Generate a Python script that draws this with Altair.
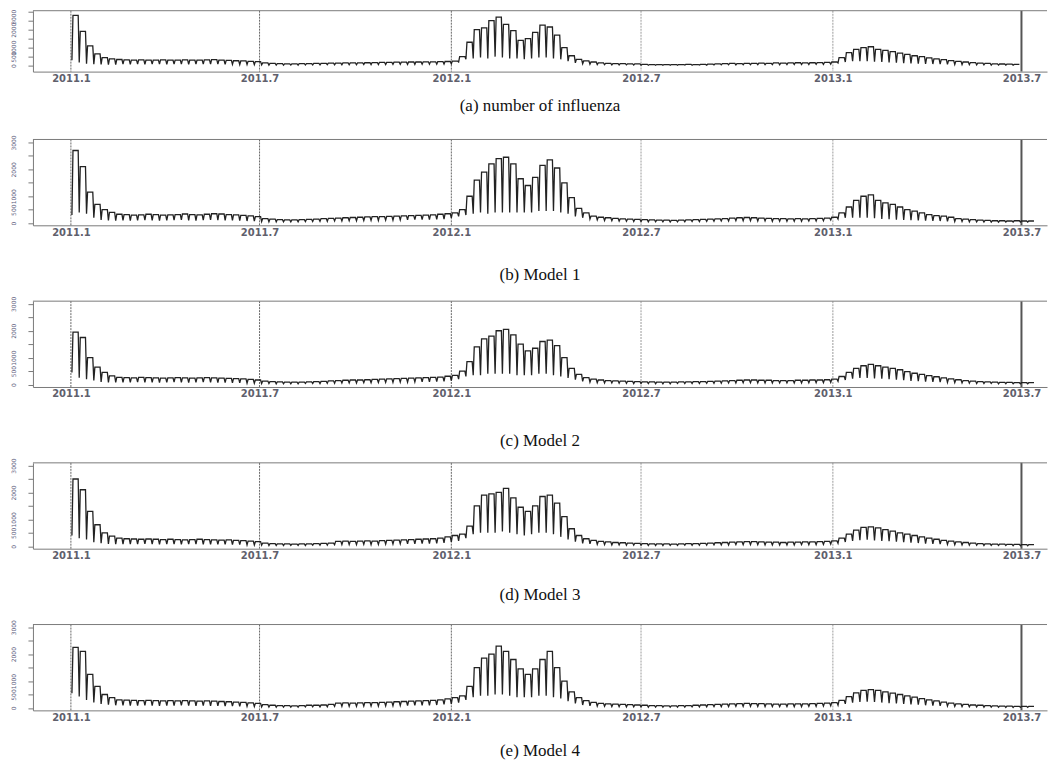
import altair as alt
import pandas as pd

# ---- axis ticks / reference lines (days since 2011-01-01) ----
tick_days = [0, 181, 365, 547, 731, 912]
tick_labels = ["2011.1", "2011.7", "2012.1", "2012.7", "2013.1", "2013.7"]
vline_styles = ["dark", "dark", "dark", "light", "light", "solid"]
y_ticks = [0, 500, 1000, 1500, 2000, 2500, 3000]

captions = ["(a) number of influenza", "(b) Model 1", "(c) Model 2", "(d) Model 3", "(e) Model 4"]

# ---- weekly values: weekday level (hi) and Sunday dip (lo) ----
a_hi = [2800, 1900, 1100, 650, 450, 380, 340,
        320, 310, 320, 300, 310, 320, 300, 310, 320, 300, 310, 320, 330, 300, 290, 270, 260, 240, 220,
        150, 120, 110, 100, 100, 110, 110, 120, 130, 140, 140, 150, 150,
        150, 160, 170, 180, 180, 190, 190, 200, 200, 210, 210, 220, 230, 250,
        500, 1300, 2000, 2100, 2500, 2700, 2300, 1950, 1400, 1500, 1850, 2250, 2150, 1700, 1000, 550, 350, 260, 200, 150,
        120, 110, 110, 100, 100, 70, 60, 60, 60, 60, 60, 70, 60, 70, 80, 100, 110, 120, 110, 130, 120, 140, 130, 150, 140, 150, 160, 150, 160, 170, 180,
        200, 450, 720, 900, 1000, 1050, 900, 850, 780, 700, 620, 550, 500, 430, 380, 330, 280, 240, 200, 170, 140, 120, 100, 90, 80, 70]
a_lo = [300, 170, 100, 80, 70, 60, 60,
        80, 70, 80, 70, 80, 80, 70, 80, 80, 70, 80, 80, 90, 80, 70, 70, 60, 60, 50,
        40, 30, 30, 30, 30, 30, 40, 40, 40, 50, 50, 50, 50,
        50, 60, 60, 60, 60, 70, 70, 70, 70, 80, 80, 80, 90, 100,
        200, 350, 400, 450, 400, 500, 450, 400, 400, 350, 400, 450, 450, 400, 350, 250, 150, 100, 80, 60,
        50, 40, 40, 40, 30, 30, 20, 20, 20, 20, 20, 30, 20, 30, 30, 40, 40, 50, 40, 50, 50, 50, 50, 60, 50, 60, 60, 60, 60, 70, 70,
        80, 150, 200, 250, 250, 250, 220, 200, 180, 160, 140, 120, 110, 100, 90, 80, 70, 60, 60, 50, 40, 40, 30, 30, 30, 30]

b_hi = [2700, 2100, 1150, 700, 500, 400, 330,
        320, 300, 310, 330, 320, 300, 310, 320, 340, 320, 310, 330, 350, 340, 320, 310, 290, 270, 240,
        170, 150, 130, 120, 120, 130, 140, 150, 170, 180, 190, 200, 210,
        220, 230, 240, 240, 250, 260, 270, 280, 290, 300, 310, 330, 350, 380,
        500, 1000, 1600, 1900, 2200, 2400, 2450, 2200, 1650, 1400, 1700, 2150, 2350, 2050, 1500, 950, 550, 380, 260, 220,
        200, 180, 160, 150, 140, 130, 120, 110, 110, 100, 110, 120, 130, 140, 150, 160, 170, 190, 200, 210, 200, 190, 180, 170, 170, 160, 170, 160, 170, 180, 190,
        220, 380, 600, 850, 1000, 1050, 850, 750, 700, 600, 500, 450, 380, 320, 280, 260, 220, 170, 150, 130, 110, 100, 90, 90, 80, 90, 80, 80]
b_lo = [300, 400, 350, 200, 120, 100, 90,
        100, 90, 100, 110, 100, 90, 100, 110, 120, 100, 90, 110, 120, 110, 100, 100, 90, 80, 80,
        60, 50, 50, 50, 50, 50, 60, 60, 70, 70, 80, 80, 90,
        90, 100, 100, 100, 110, 110, 120, 120, 130, 130, 130, 140, 150, 200,
        250, 300, 350, 400, 350, 400, 400, 400, 400, 400, 400, 450, 450, 450, 400, 350, 250, 200, 150, 120,
        100, 90, 80, 70, 60, 60, 50, 50, 50, 40, 50, 50, 60, 60, 70, 70, 80, 80, 90, 90, 90, 80, 80, 70, 70, 70, 70, 70, 80, 80, 90,
        120, 150, 200, 200, 200, 200, 180, 160, 150, 130, 120, 110, 100, 90, 80, 80, 70, 60, 60, 50, 50, 40, 40, 40, 40, 40, 40, 40]

c_hi = [1950, 1750, 1000, 650, 450, 320, 270,
        260, 250, 270, 260, 250, 240, 250, 260, 250, 240, 250, 260, 250, 240, 230, 220, 210, 190, 170,
        130, 110, 100, 90, 90, 90, 100, 110, 120, 140, 150, 160, 170,
        170, 180, 190, 200, 210, 220, 230, 240, 250, 260, 270, 280, 310, 340,
        500, 850, 1400, 1700, 1800, 2000, 2050, 1850, 1500, 1250, 1350, 1600, 1650, 1450, 1000, 600, 380, 260, 200, 170,
        150, 140, 130, 120, 110, 100, 100, 90, 90, 90, 100, 100, 110, 110, 120, 130, 140, 150, 160, 170, 170, 160, 160, 150, 150, 150, 160, 160, 170, 170, 180,
        200, 300, 450, 600, 700, 750, 700, 650, 600, 550, 480, 420, 380, 330, 290, 250, 210, 180, 150, 130, 110, 100, 90, 80, 80, 70, 70, 70]
c_lo = [450, 250, 200, 150, 100, 80, 80,
        80, 80, 90, 80, 80, 70, 80, 90, 80, 70, 80, 90, 80, 70, 70, 60, 60, 50, 50,
        40, 40, 30, 30, 30, 30, 40, 40, 40, 50, 50, 60, 60,
        60, 70, 70, 80, 80, 80, 90, 90, 100, 100, 100, 110, 120, 150,
        200, 300, 350, 350, 400, 400, 400, 400, 350, 350, 350, 400, 400, 350, 300, 250, 180, 120, 90, 70,
        60, 60, 50, 50, 40, 40, 40, 30, 30, 30, 40, 40, 40, 40, 50, 50, 50, 60, 60, 70, 70, 60, 60, 60, 60, 60, 60, 60, 70, 70, 70,
        80, 120, 170, 220, 250, 250, 230, 220, 200, 180, 160, 140, 130, 110, 100, 90, 80, 70, 60, 50, 40, 40, 40, 30, 30, 30, 30, 30]

d_hi = [2500, 2100, 1300, 800, 500, 380, 300,
        280, 270, 260, 270, 260, 250, 260, 250, 240, 250, 260, 250, 240, 230, 240, 220, 210, 190, 170,
        120, 100, 90, 90, 80, 90, 90, 100, 110, 120, 180, 190, 180,
        190, 200, 190, 210, 220, 230, 240, 250, 260, 270, 280, 300, 350, 400,
        450, 750, 1500, 1900, 1950, 2000, 2150, 1800, 1450, 1300, 1500, 1850, 1900, 1600, 1100, 650, 400, 280, 220, 180,
        160, 140, 130, 120, 110, 100, 90, 90, 90, 80, 90, 100, 100, 110, 120, 130, 140, 150, 160, 170, 170, 160, 150, 150, 140, 150, 150, 160, 160, 170, 180,
        200, 300, 450, 600, 700, 720, 680, 620, 560, 500, 450, 400, 350, 300, 260, 220, 190, 160, 140, 120, 100, 90, 80, 80, 70, 70, 60, 60]
d_lo = [400, 300, 250, 150, 110, 90, 80,
        80, 80, 80, 90, 80, 70, 80, 80, 70, 80, 80, 70, 70, 70, 70, 60, 60, 50, 50,
        40, 30, 30, 30, 30, 30, 30, 40, 40, 40, 60, 60, 60,
        60, 70, 60, 70, 80, 80, 90, 90, 90, 100, 100, 110, 130, 160,
        200, 300, 450, 500, 500, 500, 550, 500, 450, 400, 450, 500, 500, 450, 350, 250, 170, 110, 90, 70,
        60, 50, 50, 40, 40, 40, 30, 30, 30, 30, 30, 40, 40, 40, 40, 50, 50, 50, 60, 60, 60, 60, 50, 50, 50, 50, 50, 60, 60, 60, 70,
        80, 110, 160, 200, 230, 240, 220, 200, 190, 170, 150, 130, 120, 100, 90, 80, 70, 60, 50, 40, 40, 30, 30, 30, 30, 20, 20, 20]

e_hi = [2250, 2100, 1250, 800, 500, 380, 300,
        290, 280, 270, 280, 270, 260, 270, 260, 270, 260, 250, 260, 250, 240, 230, 220, 210, 190, 170,
        120, 100, 90, 90, 80, 90, 100, 100, 110, 130, 180, 190, 180,
        190, 200, 200, 210, 220, 230, 240, 250, 260, 270, 280, 300, 340, 380,
        450, 800, 1500, 1850, 2000, 2300, 2100, 1800, 1450, 1250, 1450, 1800, 2100, 1500, 1000, 600, 380, 270, 210, 170,
        150, 140, 130, 120, 110, 100, 90, 90, 80, 80, 90, 90, 100, 110, 120, 130, 140, 150, 160, 170, 160, 160, 150, 140, 140, 150, 150, 150, 160, 170, 180,
        200, 280, 420, 560, 650, 680, 650, 600, 550, 500, 450, 400, 350, 300, 260, 220, 180, 150, 130, 110, 100, 90, 80, 70, 70, 60, 60, 60]
e_lo = [550, 430, 300, 200, 150, 120, 100,
        100, 90, 90, 100, 90, 80, 90, 90, 100, 90, 80, 90, 80, 80, 70, 70, 60, 60, 50,
        40, 30, 30, 30, 30, 30, 40, 40, 40, 40, 60, 60, 60,
        60, 70, 70, 70, 80, 80, 90, 90, 100, 100, 100, 110, 130, 150,
        200, 300, 400, 450, 450, 500, 500, 450, 400, 400, 400, 450, 450, 400, 350, 250, 170, 110, 80, 70,
        60, 50, 50, 40, 40, 40, 30, 30, 30, 30, 30, 30, 40, 40, 40, 50, 50, 50, 60, 60, 60, 60, 50, 50, 50, 50, 50, 50, 60, 60, 70,
        80, 100, 150, 200, 220, 230, 220, 200, 180, 170, 150, 130, 120, 100, 90, 80, 70, 60, 50, 40, 40, 30, 30, 30, 20, 20, 20, 20]

series = [(a_hi, a_lo), (b_hi, b_lo), (c_hi, c_lo), (d_hi, d_lo), (e_hi, e_lo)]
for hi, lo in series:
    assert len(hi) == len(lo), (len(hi), len(lo))

# ---- layout ----
PLOT_W = 1016
X_DOMAIN = [-36.4, 936.5]
heights = [61, 86, 86, 86, 86]
y_domains = [[-333, 3055], [-80, 3110], [-90, 3100], [-90, 3100], [-90, 3100]]
title_offsets = [14, 30, 34, 26, 21]
top_label_shift = [5, 0, 0, 0, 0]

label_expr = "".join(
    f"datum.value == {d} ? '{t}' : " for d, t in zip(tick_days, tick_labels)
) + "''"


def weekly_frame(hi, lo):
    rows = []
    for k, (h, l) in enumerate(zip(hi, lo)):
        rows.append({"day": 7 * k + 1, "v": l, "o": 3 * k})
        rows.append({"day": 7 * k + 2, "v": h, "o": 3 * k + 1})
        rows.append({"day": 7 * k + 7, "v": h, "o": 3 * k + 2})
    return pd.DataFrame(rows)


vline_df = pd.DataFrame({"day": tick_days, "style": vline_styles})
top_df = pd.DataFrame({"k": [0]})

x_axis = alt.Axis(
    values=tick_days, labelExpr=label_expr, ticks=False, grid=False,
    domainColor="#7a7a7a", labelFont="DejaVu Sans", labelFontSize=10,
    labelFontWeight="bold", labelColor="#60606c", labelPadding=2,
    labelFlush=False, labelOverlap=False, title=None,
)


def panel(i):
    hi, lo = series[i]
    df = weekly_frame(hi, lo)
    xenc = alt.X("day:Q", scale=alt.Scale(domain=X_DOMAIN, nice=False, zero=False), axis=x_axis)
    y_axis = alt.Axis(
        values=y_ticks, format="d",
        labelExpr="datum.value == 1500 || datum.value == 2500 ? '' : datum.label",
        labelAngle=270, labelAlign="center", labelBaseline="bottom",
        labelFont="DejaVu Sans", labelFontSize=6, labelColor="#5a5a7a",
        labelOffset={"condition": {"test": "datum.value == 3000", "value": top_label_shift[i]}, "value": 0},
        labelPadding=11, tickSize=5, tickColor="#7a7a7a", domainColor="#7a7a7a",
        grid=False, title=None, labelOverlap=False,
    )
    vlines = alt.Chart(vline_df).mark_rule().encode(
        x=xenc,
        color=alt.Color("style:N", scale=alt.Scale(domain=["dark", "light", "solid"],
                                                   range=["#666666", "#bdbdbd", "#555555"]), legend=None),
        strokeDash=alt.StrokeDash("style:N", scale=alt.Scale(domain=["dark", "light", "solid"],
                                                             range=[[2, 1], [2, 1], [1, 0]]), legend=None),
        strokeWidth=alt.StrokeWidth("style:N", scale=alt.Scale(domain=["dark", "light", "solid"],
                                                               range=[1, 2, 1.5]), legend=None),
    )
    top = alt.Chart(top_df).mark_rule(color="#7a7a7a", strokeWidth=1).encode(
        x=alt.value(0), x2=alt.value(PLOT_W), y=alt.value(0)
    )
    line = alt.Chart(df).mark_line(color="#222222", strokeWidth=1.3, interpolate="linear").encode(
        x=xenc,
        y=alt.Y("v:Q", scale=alt.Scale(domain=y_domains[i], nice=False, zero=False), axis=y_axis),
        order="o:Q",
    )
    return alt.layer(vlines, top, line).properties(
        width=PLOT_W, height=heights[i],
        title=alt.TitleParams(
            captions[i], orient="bottom", frame="group", anchor="middle",
            offset=title_offsets[i], font="Liberation Serif", fontSize=17,
            fontWeight="normal", color="#111111", baseline="top",
        ),
    )


inner = alt.vconcat(panel(1), panel(2), panel(3), panel(4), spacing=76, bounds="flush")
chart = alt.vconcat(panel(0), inner, spacing=68, bounds="flush").properties(
    padding={"left": 2, "top": 0, "right": 0, "bottom": 0}
).configure_view(stroke=None)

chart.save("out.html", embed_options={"renderer": "svg", "actions": False})
